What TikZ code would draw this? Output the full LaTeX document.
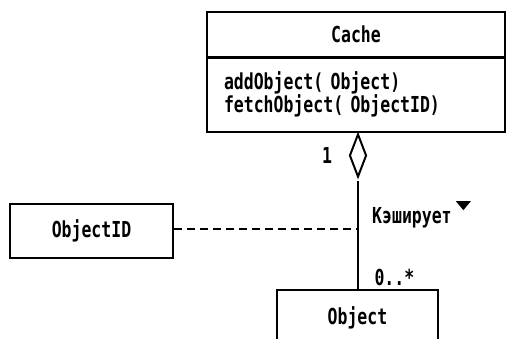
\documentclass[tikz,border=0pt]{standalone}
\usepackage{fontspec}
\newfontfamily\umlfont[FakeStretch=0.75]{DejaVu Sans Mono}
\usetikzlibrary{shapes.geometric}

\begin{document}
\begin{tikzpicture}[x=1pt,y=1pt,
	every node/.style={font=\umlfont\bfseries\fontsize{22}{23}\selectfont},
	umlbox/.style={draw, line width=2.5pt, inner sep=0pt}]
	\useasboundingbox (0,0) rectangle (507,-339);
	% class Cache
	\node[umlbox, minimum width=298, minimum height=45.5] (cachetitle) at (356,-34.75) {Cache};
	\node[umlbox, minimum width=298, minimum height=74.5, text width=264, align=left,
		inner xsep=17pt] (cacheops) at (356,-94.75) {addObject( Object)\\fetchObject( ObjectID)};
	% aggregation
	\node[draw, diamond, line width=2pt, inner sep=0pt, minimum width=17, minimum height=43,
		anchor=north] (agg) at (358,-133) {};
	\node (one) at (327,-155) {1};
	% cached objects
	\node[umlbox, line width=2pt, minimum width=161, minimum height=56] (object) at (357.5,-318) {Object};
	\draw[line width=2pt] (agg.south) ++(0,-3) -- (agg.south |- object.north);
	\node[anchor=west, inner xsep=1pt] (caches) at (371,-218) {Кэширует};
	\fill ([shift={(3,3)}]caches.north east) -- ++(15,0) -- ++(-7.5,-9) -- cycle;
	\node[anchor=west] (many) at (371,-277) {0..*};
	% qualifier
	\node[umlbox, line width=2pt, minimum width=163, minimum height=54] (objectid) at (91.5,-231) {ObjectID};
	\draw[line width=2pt, dash pattern=on 8pt off 5pt] (objectid.east |- 0,-229) -- (agg.south |- 0,-229);
\end{tikzpicture}
\end{document}
